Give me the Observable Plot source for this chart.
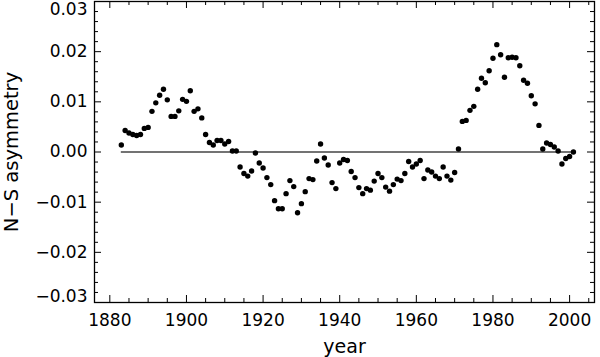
<!DOCTYPE html>
<html>
<head>
<meta charset="utf-8">
<script src="https://cdn.jsdelivr.net/npm/d3@7"></script>
<script src="https://cdn.jsdelivr.net/npm/@observablehq/plot@0.6"></script>
<style>
  html, body { margin: 0; padding: 0; background: #fff; }
  #chart svg { display: block; }
</style>
</head>
<body>
<div id="chart"></div>
<script>
// ---- data ----
const years = [
  1883,1884,1885,1886,1887,1888,1889,1890,1891,1892,1893,1894,1895,1896,1897,1898,1899,1900,
  1901,1902,1903,1904,1905,1906,1907,1908,1909,1910,1911,1912,1913,1914,1915,1916,1917,1918,1919,1920,
  1921,1922,1923,1924,1925,1926,1927,1928,1929,1930,1931,1932,1933,1934,1935,1936,1937,1938,1939,1940,
  1941,1942,1943,1944,1945,1946,1947,1948,1949,1950,1951,1952,1953,1954,1955,1956,1957,1958,1959,1960,
  1961,1962,1963,1964,1965,1966,1967,1968,1969,1970,1971,1972,1973,1974,1975,1976,1977,1978,1979,1980,
  1981,1982,1983,1984,1985,1986,1987,1988,1989,1990,1991,1992,1993,1994,1995,1996,1997,1998,1999,2000,
  2001
];
const asymmetry = [
  0.0014,0.0043,0.0038,0.0035,0.0033,0.0035,0.0047,0.0049,0.0081,0.0098,0.0113,0.0125,0.0104,0.0071,0.0071,0.0082,0.0105,0.0101,
  0.0122,0.0081,0.0086,0.0068,0.0035,0.0019,0.0014,0.0023,0.0023,0.0016,0.0021,0.0002,0.0002,-0.0030,-0.0043,-0.0048,-0.0038,-0.0002,-0.0022,-0.0032,
  -0.0051,-0.0065,-0.0097,-0.0113,-0.0113,-0.0083,-0.0057,-0.0069,-0.0121,-0.0103,-0.0079,-0.0053,-0.0055,-0.0018,0.0016,-0.0012,-0.0026,-0.0061,-0.0073,-0.0022,
  -0.0015,-0.0017,-0.0039,-0.0051,-0.0071,-0.0083,-0.0073,-0.0076,-0.0058,-0.0043,-0.0051,-0.0070,-0.0078,-0.0065,-0.0054,-0.0057,-0.0043,-0.0019,-0.0030,-0.0024,
  -0.0017,-0.0053,-0.0036,-0.0040,-0.0048,-0.0053,-0.0030,-0.0048,-0.0056,-0.0041,0.0006,0.0061,0.0063,0.0083,0.0091,0.0125,0.0147,0.0138,0.0162,0.0187,
  0.0214,0.0194,0.0149,0.0188,0.0189,0.0188,0.0172,0.0143,0.0137,0.0112,0.0096,0.0053,0.0006,0.0018,0.0015,0.0010,0.0002,-0.0024,-0.0013,-0.0009,
  0.0000
];
const xTickValues = [1880, 1900, 1920, 1940, 1960, 1980, 2000];
const xTickLabels = ["1880", "1900", "1920", "1940", "1960", "1980", "2000"];
const yTickValues = [-0.03, -0.02, -0.01, 0.00, 0.01, 0.02, 0.03];
const yTickLabels = ["\u22120.03", "\u22120.02", "\u22120.01", "0.00", "0.01", "0.02", "0.03"];
const xLabel = "year";
const yLabel = "N\u2212S asymmetry";

// ---- build ----
const points = years.map((y, i) => ({year: y, asym: asymmetry[i]}));
const xMinor = d3.range(1880, 2006, 5).filter(v => !xTickValues.includes(v));
const yMinor = d3.range(-30, 31, 2).map(v => v / 1000).filter(v => !yTickValues.some(t => Math.abs(t - v) < 1e-9));
const yTicks = yTickValues.map((v, i) => ({v, label: yTickLabels[i]}));
const xTicks = xTickValues.map((v, i) => ({v, label: xTickLabels[i]}));

const W = 600, H = 357;
const mL = 94, mR = 6, mT = 1, mB = 55;
const innerW = W - mL - mR, innerH = H - mT - mB;
const font = "DejaVu Sans, sans-serif";

const chart = Plot.plot({
  width: W,
  height: H,
  marginLeft: mL, marginRight: mR, marginTop: mT, marginBottom: mB,
  style: {fontFamily: font, fontSize: "17px", background: "#fff", color: "#000", overflow: "visible"},
  x: {domain: [1876, 2006.5], axis: null},
  y: {domain: [-0.03, 0.03], axis: null},
  marks: [
    // zero reference line
    Plot.ruleY([0], {x1: years[0], x2: years[years.length - 1], stroke: "#444", strokeWidth: 1.3}),
    // data points
    Plot.dot(points, {x: "year", y: "asym", r: 2.7, fill: "#000"}),
    // inward ticks: bottom/top
    Plot.tickX(xTickValues, {x: d => d, insetTop: innerH - 7, stroke: "#000"}),
    Plot.tickX(xTickValues, {x: d => d, insetBottom: innerH - 7, stroke: "#000"}),
    Plot.tickX(xMinor, {x: d => d, insetTop: innerH - 4, stroke: "#000"}),
    Plot.tickX(xMinor, {x: d => d, insetBottom: innerH - 4, stroke: "#000"}),
    // inward ticks: left/right
    Plot.tickY(yTickValues, {y: d => d, insetRight: innerW - 7, stroke: "#000"}),
    Plot.tickY(yTickValues, {y: d => d, insetLeft: innerW - 7, stroke: "#000"}),
    Plot.tickY(yMinor, {y: d => d, insetRight: innerW - 4, stroke: "#000"}),
    Plot.tickY(yMinor, {y: d => d, insetLeft: innerW - 4, stroke: "#000"}),
    // frame
    Plot.frame({stroke: "#000", strokeWidth: 1.3}),
    // y tick labels (outer ones nudged inside the picture)
    Plot.text(yTicks.slice(1, -1), {y: "v", text: "label", frameAnchor: "left", dx: -7, textAnchor: "end", lineAnchor: "middle", fill: "#000"}),
    Plot.text(yTicks.slice(0, 1), {y: "v", text: "label", frameAnchor: "left", dx: -7, dy: -6, textAnchor: "end", lineAnchor: "middle", fill: "#000"}),
    Plot.text(yTicks.slice(-1), {y: "v", text: "label", frameAnchor: "left", dx: -7, dy: 8, textAnchor: "end", lineAnchor: "middle", fill: "#000"}),
    // x tick labels
    Plot.text(xTicks, {x: "v", text: "label", frameAnchor: "bottom", dy: 18, textAnchor: "middle", lineAnchor: "middle", fill: "#000"}),
    // axis titles
    Plot.text([xLabel], {text: d => d, frameAnchor: "bottom", dy: 44, textAnchor: "middle", lineAnchor: "middle", fontSize: 19, fill: "#000"}),
    Plot.text([yLabel], {text: d => d, frameAnchor: "left", dx: -83, rotate: -90, textAnchor: "middle", lineAnchor: "middle", fontSize: 19.5, fill: "#000"})
  ]
});
document.getElementById("chart").appendChild(chart);
</script>
</body>
</html>
